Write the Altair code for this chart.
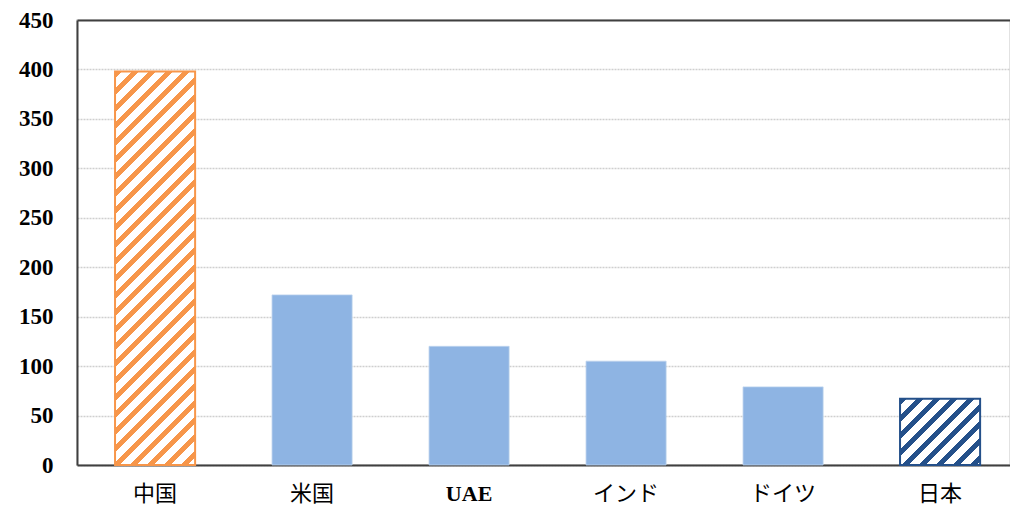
import altair as alt
import pandas as pd

countries = ["中国", "米国", "UAE", "インド", "ドイツ", "日本"]
values = [398, 172, 120, 105, 79, 67]
hatched = ["中国", "日本"]
hatch_colors = {"中国": "#F7964A", "日本": "#24508A"}
y_ticks = [0, 50, 100, 150, 200, 250, 300, 350, 400, 450]

PLOT_W, PLOT_H = 933, 445
Y_MAX = 450
PAD_INNER = 0.49
STEP = 157.0
PAD_OUTER = (PLOT_W / STEP - len(countries) + PAD_INNER) / 2
BAR_PX = STEP * (1 - PAD_INNER)
PERIOD = 17.0      # stripe period along x (px)
FRAC = 0.42        # coloured share of each period

df = pd.DataFrame({"country": countries, "value": values})


def hatch_gradient(value, color):
    w = BAR_PX
    h = value / Y_MAX * PLOT_H
    c = (w + h) / (w * w + h * h)
    n = (w + h) / PERIOD
    stops = []
    k = 0
    while k / n < 1:
        a = k / n
        b = min(1.0, (k + FRAC) / n)
        e = min(1.0, (k + 1) / n)
        stops += [
            {"offset": a, "color": color},
            {"offset": b, "color": color},
            {"offset": b, "color": "white"},
            {"offset": e, "color": "white"},
        ]
        k += 1
    return {
        "gradient": "linear",
        "x1": 0, "y1": 0, "x2": c * w, "y2": c * h,
        "stops": stops,
    }


x_enc = alt.X(
    "country:N",
    sort=countries,
    title=None,
    scale=alt.Scale(paddingInner=PAD_INNER, paddingOuter=PAD_OUTER, align=0.56),
    axis=alt.Axis(
        labelAngle=0,
        labelFont="Liberation Serif, 'Noto Sans CJK JP'",
        labelFontSize=22,
        labelFontWeight={"condition": {"test": "datum.value === 'UAE'", "value": "bold"}, "value": "normal"},
        labelColor="black",
        labelPadding=18,
        ticks=False,
        domainColor="#404040",
        domainWidth=2,
        grid=False,
    ),
)
y_enc = alt.Y(
    "value:Q",
    title=None,
    scale=alt.Scale(domain=[0, Y_MAX], nice=False),
    axis=alt.Axis(
        values=y_ticks,
        labelFont="Liberation Serif",
        labelFontWeight="bold",
        labelFontSize=23,
        labelColor="black",
        labelPadding=24,
        ticks=False,
        domainColor="#404040",
        domainWidth=2,
        gridColor={"condition": {"test": "datum.value === 450", "value": "#404040"}, "value": "#cfcfcf"},
        gridWidth={"condition": {"test": "datum.value === 450", "value": 2}, "value": 1.5},
        gridDash={"condition": {"test": "datum.value === 450", "value": []}, "value": [2, 1]},
    ),
)

base = alt.Chart(df).encode(x=x_enc, y=y_enc)

plain = base.mark_bar(color="#8EB4E3", stroke="#BDD3EE", strokeWidth=0.8).transform_filter(
    alt.FieldOneOfPredicate(field="country", oneOf=[c for c in countries if c not in hatched])
)

layers = [plain]
for name in hatched:
    v = values[countries.index(name)]
    col = hatch_colors[name]
    layers.append(
        base.mark_bar(fill=hatch_gradient(v, col), stroke=col, strokeWidth=2).transform_filter(
            alt.FieldEqualPredicate(field="country", equal=name)
        )
    )

chart = alt.layer(*layers).properties(
    width=PLOT_W,
    height=PLOT_H,
    padding={"left": 69, "top": 12, "right": 0, "bottom": 39},
    autosize=alt.AutoSizeParams(type="none"),
    background="white",
).configure_view(stroke="#d9d9d9", strokeWidth=1.5)

chart.save("out.html", embed_options={"renderer": "svg", "actions": False})
